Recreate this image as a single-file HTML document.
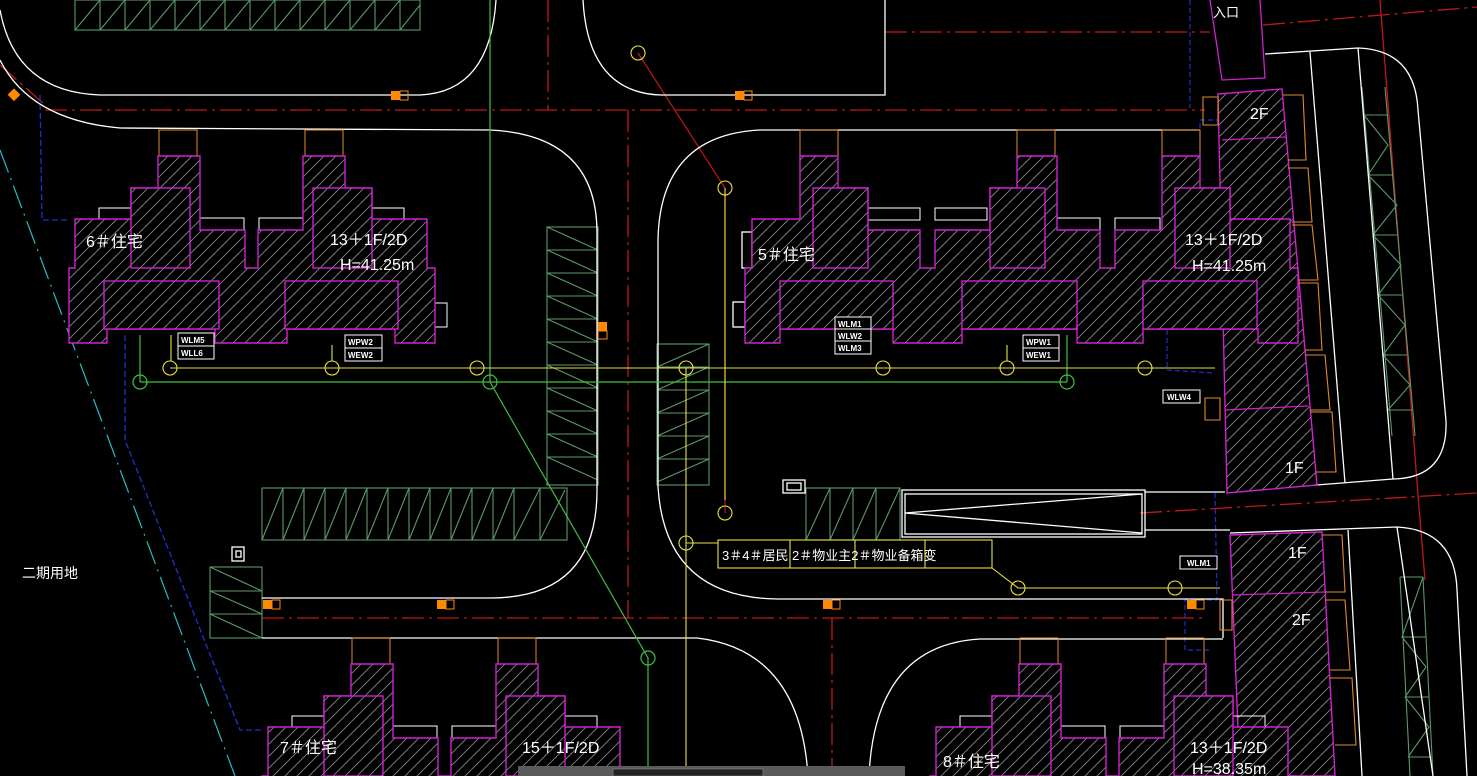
<!DOCTYPE html>
<html><head><meta charset="utf-8"><style>
html,body{margin:0;padding:0;background:#000;overflow:hidden}
svg{display:block}
text{font-family:"Liberation Sans","Noto Sans CJK SC",sans-serif;fill:#fff}
</style></head><body>
<svg width="1477" height="776" viewBox="0 0 1477 776" xmlns="http://www.w3.org/2000/svg">
<defs>
<pattern id="h" patternUnits="userSpaceOnUse" width="12" height="12">
<rect width="12" height="12" fill="#000"/>
<path d="M0,12 L12,0 M-3,3 L3,-3 M9,15 L15,9" stroke="#8a8a8a" stroke-width="0.8"/>
</pattern>
<g id="bld">
<rect x="159" y="130" width="38" height="26" fill="none" stroke="#e08a30"/>
<rect x="305" y="130" width="38" height="26" fill="none" stroke="#e08a30"/>
<rect x="99" y="208" width="32" height="11" fill="none" stroke="#fff"/>
<rect x="200" y="218" width="44" height="12" fill="none" stroke="#fff"/>
<rect x="259" y="218" width="44" height="12" fill="none" stroke="#fff"/>
<rect x="372" y="208" width="32" height="11" fill="none" stroke="#fff"/>
<rect x="435" y="303" width="12" height="24" fill="none" stroke="#fff"/>
<polygon fill="url(#h)" stroke="#d020d0" stroke-width="1.4" points="69,268 75,268 75,219 131,219 131,188 158,188 158,156 200,156 200,230 245,230 245,268 258,268 258,230 303,230 303,156 345,156 345,188 372,188 372,219 427,219 427,268 435,268 435,343 395,343 395,329 287,329 287,343 215,343 215,329 107,329 107,343 69,343"/>
<rect x="131" y="188" width="59" height="80" fill="url(#h)" stroke="#d020d0" stroke-width="1.4"/>
<rect x="313" y="188" width="59" height="80" fill="url(#h)" stroke="#d020d0" stroke-width="1.4"/>
<rect x="104" y="281" width="115" height="48" fill="url(#h)" stroke="#d020d0" stroke-width="1.4"/>
<rect x="285" y="281" width="113" height="48" fill="url(#h)" stroke="#d020d0" stroke-width="1.4"/>
</g>
</defs>
<rect width="1477" height="776" fill="#000"/>

<g stroke="#c01818" stroke-width="1.3" fill="none" stroke-dasharray="22,5,3,5">
<path d="M45,110 H1205"/>
<path d="M262,618 H1205"/>
<path d="M628,110 V618"/>
<path d="M548,0 V110"/>
<path d="M832,618 V776"/>
<path d="M1140,513 L1477,493"/>
<path d="M885,32 L1210,32"/>
<path d="M1263,25 L1477,7"/>
<path d="M0,65 L45,105"/>
</g>
<path d="M1380,0 L1418,495 L1425,580" stroke="#c01818" stroke-width="1.3" fill="none"/>
<path d="M638,53 L725,188 V513" stroke="#c01818" stroke-width="1.2" fill="none"/>

<path d="M0,150 L235,776" stroke="#20c0c8" stroke-width="1.2" stroke-dasharray="24,6,2,6" fill="none"/>
<path d="M40,95 L42,220 L68,220 M125,335 V440 L240,730 L262,730" stroke="#2030d0" stroke-width="1.3" stroke-dasharray="6,3" fill="none"/>
<path d="M1190,0 V108 M1200,160 V120 L1240,120 L1240,145 L1262,145 L1262,260 L1293,260 M1167,330 V370 L1215,373 M1215,493 L1217,600 L1185,600 L1185,650 L1210,650" stroke="#2030d0" stroke-width="1.2" stroke-dasharray="5,3" fill="none"/>

<g stroke="#5a9a6a" stroke-width="1.1" fill="none">
<rect x="75" y="0" width="345" height="30"/>
<path d="M100,0V30M125,0V30M150,0V30M175,0V30M200,0V30M225,0V30M250,0V30M275,0V30M300,0V30M325,0V30M350,0V30M375,0V30M400,0V30"/>
<path d="M75,30L100,0M100,30L125,0M125,30L150,0M150,30L175,0M175,30L200,0M200,30L225,0M225,30L250,0M250,30L275,0M275,30L300,0M300,30L325,0M325,30L350,0M350,30L375,0M375,30L400,0M400,30L420,5"/>
<rect x="547" y="227" width="51" height="258"/>
<path d="M547,250H598M547,273H598M547,296H598M547,319H598M547,342H598M547,365H598M547,388H598M547,411H598M547,434H598M547,457H598"/>
<path d="M547,227L598,250M547,250L598,273M547,273L598,296M547,296L598,319M547,319L598,342M547,342L598,365M547,365L598,388M547,388L598,411M547,411L598,434M547,434L598,457M547,457L598,480"/>
<rect x="262" y="488" width="305" height="52"/>
<path d="M283,488V540M304,488V540M325,488V540M346,488V540M367,488V540M388,488V540M409,488V540M430,488V540M451,488V540M472,488V540M493,488V540M514,488V540M540,488V540"/>
<path d="M262,540L283,488M283,540L304,488M304,540L325,488M325,540L346,488M346,540L367,488M367,540L388,488M388,540L409,488M409,540L430,488M430,540L451,488M451,540L472,488M472,540L493,488M493,540L514,488M514,540L540,488M540,540L565,490"/>
<rect x="657" y="344" width="52" height="141"/>
<path d="M657,367H709M657,390H709M657,413H709M657,436H709M657,459H709"/>
<path d="M657,367L709,344M657,390L709,367M657,413L709,390M657,436L709,413M657,459L709,436M657,482L709,459"/>
<rect x="210" y="567" width="52" height="71"/>
<path d="M210,591H262M210,614H262M210,567L262,591M210,591L262,614M210,614L262,638"/>
<rect x="806" y="488" width="94" height="52"/>
<path d="M830,488V540M853,488V540M876,488V540M806,540L830,488M830,540L853,488M853,540L876,488M876,540L900,488"/>
<path d="M1362,87 L1392,436 M1385,87 L1415,436 M1364,115H1388M1368,175H1392M1373,235H1397M1378,295H1402M1383,355H1407M1388,410H1412 M1364,115L1388,145 L1368,175 L1397,205 L1373,235 L1401,265 L1378,295 L1405,325 L1383,355 L1410,385 L1388,410"/>
<path d="M1400,577 L1410,776 M1423,577 L1433,776 M1400,577H1423M1402,637H1426M1405,697H1429M1408,757H1432 M1423,577L1402,637 L1426,667 L1405,697 L1429,727 L1408,757"/>
</g>

<g stroke="#fff" stroke-width="1.3" fill="none">
<path d="M0,10 Q15,92 100,95 L420,95 Q490,92 496,0"/>
<path d="M583,0 Q588,92 660,95 L885,95 L885,0"/>
<path d="M0,60 Q30,120 120,128 L490,130 Q597,135 597,233 L597,490 Q597,598 490,598 L262,598"/>
<path d="M1200,130 L760,130 Q660,135 658,240 L658,487 Q665,598 778,599 L1223,599 L1223,638"/>
<path d="M262,638 L697,638 Q800,650 808,776"/>
<path d="M869,776 Q875,645 980,639 L1223,639"/>
<path d="M1265,54 L1358,48 Q1415,50 1418,110 L1446,421 Q1448,478 1393,479 L1227,492"/>
<path d="M1310,52 L1345,483 M1358,48 L1393,479"/>
<path d="M1145,492 H1225 M1145,530 H1230"/>
<path d="M1230,533 L1397,527 Q1455,530 1457,590 L1467,776"/>
<path d="M1348,530 L1362,776 M1397,527 L1433,776"/>
<rect x="902" y="490" width="243" height="47"/>
<rect x="905" y="494" width="237" height="40"/>
<path d="M905,513 L1142,494 M905,513 L1142,533"/>
<rect x="783" y="480" width="22" height="13"/>
<rect x="787" y="483" width="14" height="7"/>
<rect x="232" y="547" width="12" height="14"/>
<rect x="236" y="551" width="5" height="6"/>
<rect x="742" y="232" width="10" height="36"/>
<rect x="733" y="302" width="12" height="25"/>
</g>

<polygon points="1218,94 1282,89 1317,485 1227,493" fill="url(#h)" stroke="#d020d0" stroke-width="1.4"/>
<path d="M1222,140 L1286,137 M1225,410 L1308,406" stroke="#d020d0" stroke-width="1.2"/>
<polygon points="1230,535 1322,532 1335,776 1240,776" fill="url(#h)" stroke="#d020d0" stroke-width="1.4"/>
<path d="M1233,595 L1325,592" stroke="#d020d0" stroke-width="1.2"/>
<path d="M1210,0 L1222,80 L1265,78 L1260,0" stroke="#d020d0" stroke-width="1.3" fill="none"/>
<g stroke="#e08a30" fill="none" stroke-width="1.1">
<path d="M1283,95 H1303 L1306,160 H1288 M1288,168 H1308 L1312,222 H1292 M1292,225 H1312 L1318,280 H1298 M1298,283 H1318 L1322,350 H1305 M1305,355 H1325 L1330,410 H1310 M1310,412 H1332 L1336,472 H1316"/>
<path d="M1322,535 H1342 L1345,592 H1325 M1325,600 H1345 L1350,670 H1330 M1330,678 H1352 L1356,745 H1335"/>
<path d="M1203,97 H1218 V125 H1203 Z M1205,398 H1220 V420 H1205 Z M1220,600 H1232 V630 H1220 Z"/>
</g>

<use href="#bld"/>
<use href="#bld" transform="translate(193,508)"/>
<use href="#bld" transform="translate(861,508)"/>
<g stroke="#e08a30" fill="none">
<rect x="800" y="130" width="38" height="26"/><rect x="1017" y="130" width="38" height="26"/><rect x="1162" y="130" width="38" height="26"/>
</g>
<g stroke="#fff" fill="none">
<rect x="868" y="208" width="52" height="12"/><rect x="935" y="208" width="52" height="12"/><rect x="1057" y="218" width="43" height="12"/><rect x="1115" y="218" width="45" height="12"/>
</g>
<polygon fill="url(#h)" stroke="#d020d0" stroke-width="1.4" points="745,268 752,268 752,219 800,219 800,156 838,156 838,188 868,188 868,230 920,230 920,268 935,268 935,230 990,230 990,188 1017,188 1017,156 1057,156 1057,230 1100,230 1100,268 1115,268 1115,230 1162,230 1162,156 1200,156 1200,188 1230,188 1230,219 1290,219 1290,268 1298,268 1298,343 1258,343 1258,329 1143,329 1143,343 1077,343 1077,329 962,329 962,343 893,343 893,329 780,329 780,343 745,343"/>
<g fill="url(#h)" stroke="#d020d0" stroke-width="1.4">
<rect x="813" y="188" width="55" height="80"/><rect x="990" y="188" width="55" height="80"/><rect x="1175" y="188" width="55" height="80"/>
<rect x="780" y="281" width="113" height="48"/><rect x="962" y="281" width="115" height="48"/><rect x="1143" y="281" width="114" height="48"/>
</g>

<g stroke="#40c040" stroke-width="1.2" fill="none">
<path d="M490,0 V382 M140,382 H1067 M490,382 L648,658 V776 M140,335 V382 M1067,335 V382"/>
<circle cx="140" cy="382" r="7"/><circle cx="490" cy="382" r="7"/><circle cx="1067" cy="382" r="7"/><circle cx="648" cy="658" r="7"/>
</g>

<g stroke="#e8e040" stroke-width="1.1" fill="none">
<path d="M170,368 H1215 M686,368 V776 M686,543 H718 M725,188 V500"/>
<path d="M171,335 V361 M332,345 V361 M1007,345 V361"/>
<circle cx="170" cy="368" r="7"/><circle cx="332" cy="368" r="7"/><circle cx="477" cy="368" r="7"/><circle cx="686" cy="368" r="7"/><circle cx="883" cy="368" r="7"/><circle cx="1007" cy="368" r="7"/><circle cx="1145" cy="368" r="7"/>
<circle cx="686" cy="543" r="7"/><circle cx="725" cy="513" r="7"/><circle cx="725" cy="188" r="7"/><circle cx="638" cy="53" r="7"/>
<rect x="718" y="540" width="274" height="28"/>
<path d="M790,540V568M855,540V568M925,540V568"/>
<path d="M992,568 L1018,588 H1175 H1220"/>
<circle cx="1018" cy="588" r="7"/><circle cx="1175" cy="588" r="7"/>
</g>

<g>
<rect x="391" y="91" width="9" height="9" fill="#ff8a00"/><rect x="400" y="91" width="8" height="9" fill="none" stroke="#ff8a00"/>
<rect x="735" y="91" width="9" height="9" fill="#ff8a00"/><rect x="744" y="91" width="8" height="9" fill="none" stroke="#ff8a00"/>
<rect x="598" y="322" width="9" height="9" fill="#ff8a00"/><rect x="598" y="331" width="9" height="8" fill="none" stroke="#ff8a00"/>
<rect x="263" y="600" width="9" height="9" fill="#ff8a00"/><rect x="272" y="600" width="8" height="9" fill="none" stroke="#ff8a00"/>
<rect x="437" y="600" width="9" height="9" fill="#ff8a00"/><rect x="446" y="600" width="8" height="9" fill="none" stroke="#ff8a00"/>
<rect x="823" y="600" width="9" height="9" fill="#ff8a00"/><rect x="832" y="600" width="8" height="9" fill="none" stroke="#ff8a00"/>
<rect x="1187" y="600" width="9" height="9" fill="#ff8a00"/><rect x="1196" y="600" width="8" height="9" fill="none" stroke="#ff8a00"/>
<rect x="10" y="90" width="9" height="9" fill="#ff8a00" transform="rotate(45 14 94)"/>
</g>

<g stroke="#fff" fill="#000" stroke-width="1">
<rect x="178" y="333" width="36" height="13"/><rect x="178" y="346" width="36" height="13"/>
<rect x="345" y="335" width="37" height="13"/><rect x="345" y="348" width="37" height="13"/>
<rect x="835" y="317" width="36" height="12"/><rect x="835" y="329" width="36" height="12"/><rect x="835" y="341" width="36" height="13"/>
<rect x="1023" y="335" width="36" height="13"/><rect x="1023" y="348" width="36" height="13"/>
<rect x="1163" y="390" width="37" height="13"/>
<rect x="1180" y="556" width="37" height="13"/>
</g>
<g style="font-size:8px;font-weight:bold">
<text x="181" y="343">WLM5</text><text x="181" y="356">WLL6</text>
<text x="348" y="345">WPW2</text><text x="348" y="358">WEW2</text>
<text x="838" y="327">WLM1</text><text x="838" y="339">WLW2</text><text x="838" y="351">WLM3</text>
<text x="1026" y="345">WPW1</text><text x="1026" y="358">WEW1</text>
<text x="1167" y="400">WLW4</text>
<text x="1187" y="566">WLM1</text>
</g>

<g style="font-size:16px">
<text x="86" y="247">6＃住宅</text>
<text x="330" y="245">13＋1F/2D</text>
<text x="340" y="270">H=41.25m</text>
<text x="758" y="260">5＃住宅</text>
<text x="1185" y="245">13＋1F/2D</text>
<text x="1192" y="271">H=41.25m</text>
<text x="1250" y="119">2F</text>
<text x="1285" y="473">1F</text>
<text x="1288" y="558">1F</text>
<text x="1292" y="625">2F</text>
<text x="280" y="753">7＃住宅</text>
<text x="522" y="753">15＋1F/2D</text>
<text x="943" y="767">8＃住宅</text>
<text x="1190" y="753">13＋1F/2D</text>
<text x="1192" y="774">H=38.35m</text>
</g>
<text x="22" y="578" style="font-size:14px">二期用地</text>
<text x="1213" y="17" style="font-size:13px">入口</text>
<g style="font-size:13px">
<text x="722" y="560">3＃4＃居民</text>
<text x="792" y="560">2＃物业主2＃物业备箱变</text>
</g>

<rect x="518" y="766" width="387" height="10" fill="#5a5a5a"/>
<rect x="613" y="769" width="150" height="7" fill="#222" stroke="#999" stroke-width="0.5"/>
</svg>
</body></html>
